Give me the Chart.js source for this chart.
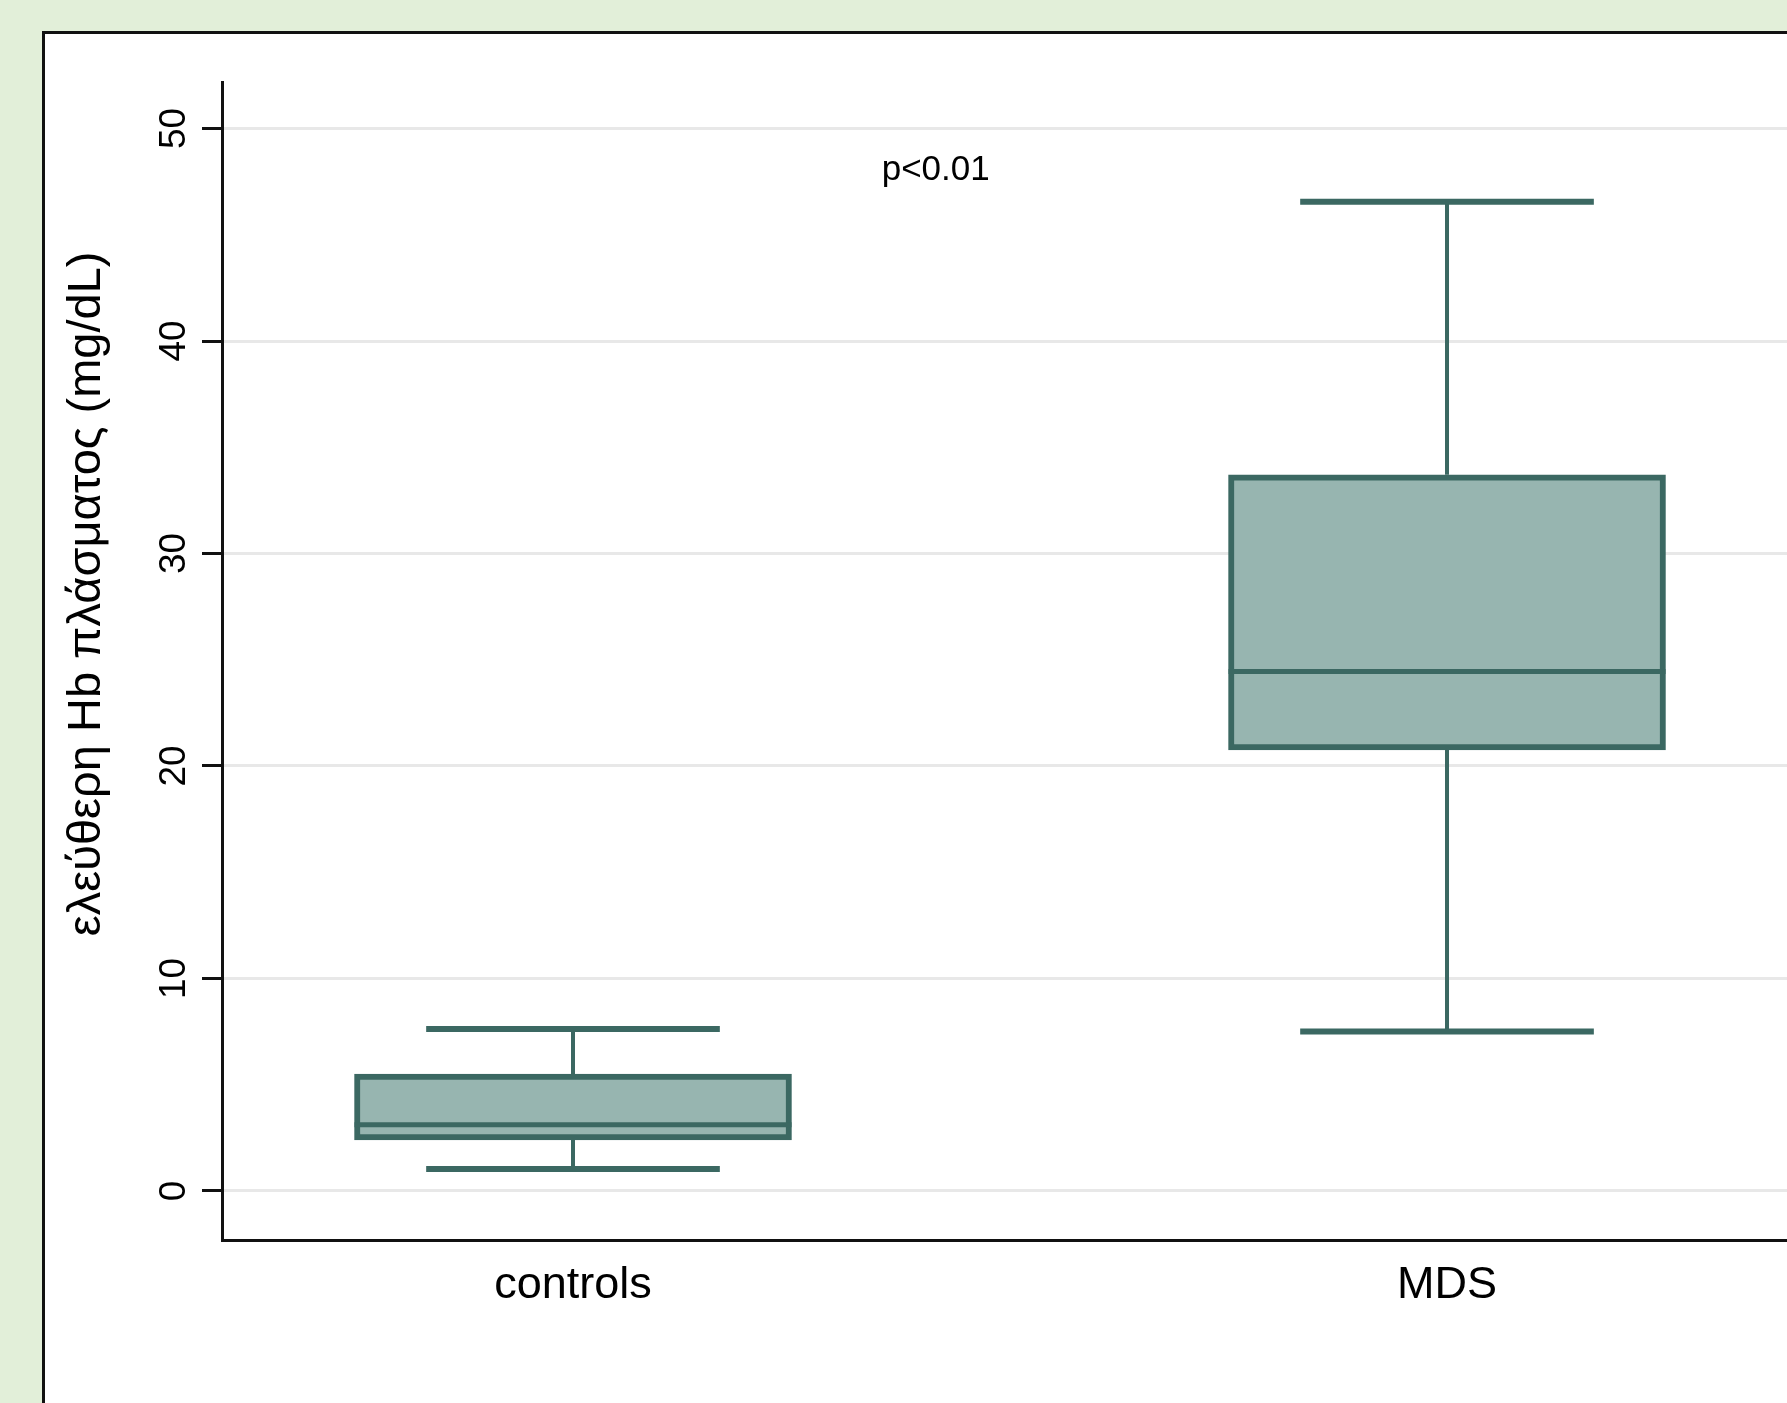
<!DOCTYPE html>
<html>
<head>
<meta charset="utf-8">
<title>Hb box plot</title>
<script src="https://cdn.jsdelivr.net/npm/chart.js@4.4.1/dist/chart.umd.min.js"></script>
<style>
    html, body { margin: 0; padding: 0; background: #e2efd9; overflow: hidden; }
    #panel { position: absolute; left: 42px; top: 31px; width: 1800px; height: 1420px; background: #fff; border: 3px solid #111; }
    #wrap { position: absolute; left: 0; top: 0; width: 1787px; height: 1403px; }
</style>
</head>
<body>
<div id="panel"></div>
<div id="wrap"><canvas id="boxChart"></canvas></div>
<script>
// groups on the x axis (numeric positions so the spacing can follow the original)
const groups = ['controls', 'MDS'];
const groupPos = [0, 1];

// box plot summaries
const lowerWhisker = [1.03, 7.5];
const q1 = [2.4, 20.75];
const median = [3.12, 24.45];
const q3 = [5.5, 33.7];
const upperWhisker = [7.62, 46.55];

const yTicks = [0, 10, 20, 30, 40, 50];
const yTitle = 'ελεύθερη Hb πλάσματος (mg/dL)';
const pText = 'p<0.01';

const boxFill = '#97b5b0';
const boxLine = '#3b6862';
const capWidth = 0.336; // in x units

Chart.defaults.font.family = "'Liberation Sans', Arial, sans-serif";
Chart.defaults.color = '#000';

const boxExtras = {
    id: 'boxExtras',
    afterDatasetsDraw(chart) {
        const ctx = chart.ctx;
        const xs = chart.scales.x;
        const ys = chart.scales.y;
        const bars = chart.getDatasetMeta(0).data;
        ctx.save();
        ctx.strokeStyle = boxLine;
        ctx.lineCap = 'butt';
        groupPos.forEach((pos, i) => {
            const cx = xs.getPixelForValue(pos);
            const half = xs.getPixelForValue(pos + capWidth / 2) - cx;
            const yLo = ys.getPixelForValue(lowerWhisker[i]);
            const yHi = ys.getPixelForValue(upperWhisker[i]);
            const yQ1 = ys.getPixelForValue(q1[i]);
            const yQ3 = ys.getPixelForValue(q3[i]);

            // whisker stems
            ctx.lineWidth = 4;
            ctx.beginPath();
            ctx.moveTo(cx, yQ3);
            ctx.lineTo(cx, yHi);
            ctx.moveTo(cx, yQ1);
            ctx.lineTo(cx, yLo);
            ctx.stroke();

            // caps
            ctx.lineWidth = 6;
            ctx.beginPath();
            ctx.moveTo(cx - half, yHi);
            ctx.lineTo(cx + half, yHi);
            ctx.moveTo(cx - half, yLo);
            ctx.lineTo(cx + half, yLo);
            ctx.stroke();

            // median
            const bar = bars[i];
            const yMed = ys.getPixelForValue(median[i]);
            ctx.lineWidth = 5;
            ctx.beginPath();
            ctx.moveTo(bar.x - bar.width / 2, yMed);
            ctx.lineTo(bar.x + bar.width / 2, yMed);
            ctx.stroke();
        });

        // p value note
        ctx.fillStyle = '#000';
        ctx.font = "35px 'Liberation Sans', Arial, sans-serif";
        ctx.textAlign = 'center';
        ctx.textBaseline = 'middle';
        ctx.fillText(pText, xs.getPixelForValue(0.415), ys.getPixelForValue(48.05));

        // y axis title (sits above the axis centre, as in the original)
        ctx.translate(87, ys.getPixelForValue(28.1));
        ctx.rotate(-Math.PI / 2);
        ctx.font = "47px 'Liberation Sans', Arial, sans-serif";
        ctx.fillText(yTitle, 0, 0);
        ctx.restore();
    }
};

new Chart(document.getElementById('boxChart'), {
    type: 'bar',
    data: {
        datasets: [{
            label: 'IQR',
            data: groupPos.map((x, i) => ({ x: x, y: [q1[i], q3[i]] })),
            backgroundColor: boxFill,
            borderColor: boxLine,
            borderWidth: 6,
            borderSkipped: false,
            barThickness: 437,
            grouped: false
        }]
    },
    options: {
        responsive: true,
        maintainAspectRatio: false,
        animation: false,
        layout: { padding: { top: 82, left: 0, right: 0, bottom: 0 } },
        plugins: {
            legend: { display: false },
            tooltip: { enabled: false }
        },
        scales: {
            x: {
                type: 'linear',
                min: -0.4016,
                max: 1.389,
                offset: false,
                afterBuildTicks: s => { s.ticks = groupPos.map(v => ({ value: v })); },
                afterFit: s => { s.height = 163; },
                grid: { display: false, drawTicks: false, offset: false },
                border: { display: true, color: '#111', width: 3 },
                ticks: {
                    callback: v => groups[groupPos.indexOf(v)],
                    font: { size: 45 },
                    color: '#000',
                    padding: 19,
                    maxRotation: 0,
                    autoSkip: false
                }
            },
            y: {
                min: -2.31,
                max: 52.19,
                afterBuildTicks: s => { s.ticks = yTicks.map(v => ({ value: v })); },
                afterFit: s => { s.width = 222; },
                grid: { color: '#e8e8e8', lineWidth: 3, tickColor: '#111', tickLength: 20, tickWidth: 3 },
                border: { color: '#111', width: 3 },
                ticks: {
                    minRotation: 90,
                    maxRotation: 90,
                    crossAlign: 'center',
                    padding: 7,
                    font: { size: 37 },
                    color: '#000'
                }
            }
        }
    },
    plugins: [boxExtras]
});
</script>
</body>
</html>
